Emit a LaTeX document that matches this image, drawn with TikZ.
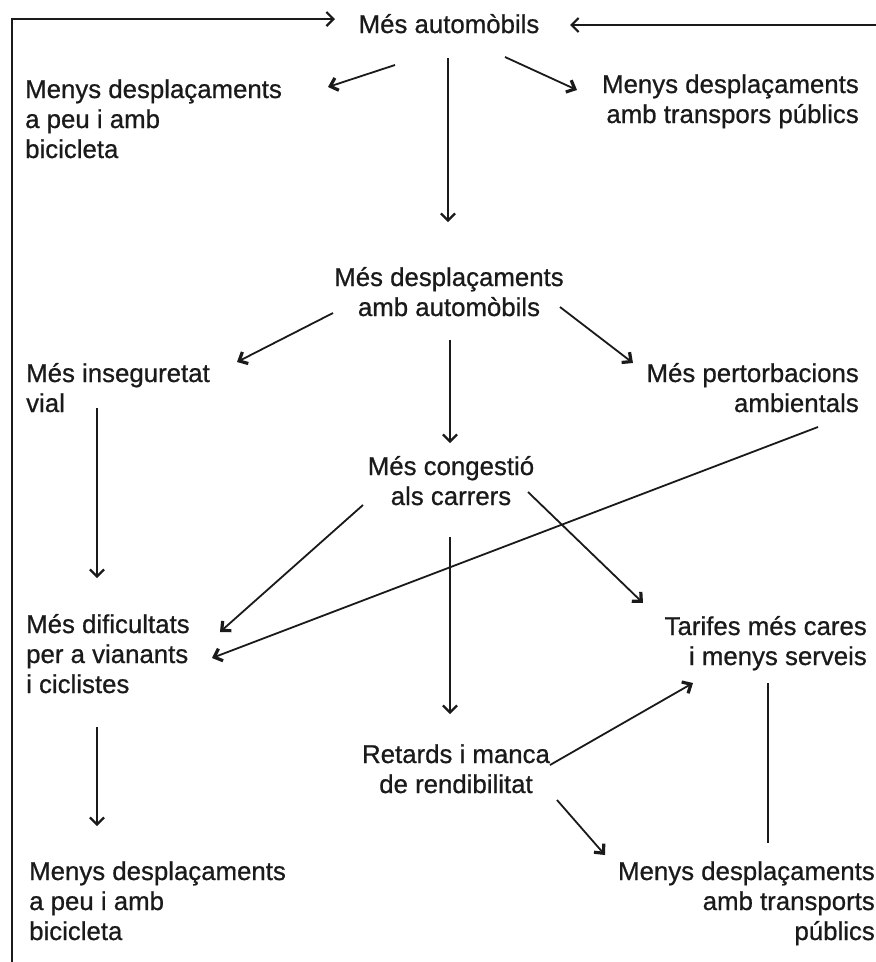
\documentclass[tikz,border=0pt]{standalone}
\usepackage{fontspec}
\setmainfont{Liberation Sans}
\newfontfamily\inkfont{Liberation Sans}[FakeBold=0.7]
\usetikzlibrary{arrows.meta}
\newcommand\lblL[1]{\begin{tabular}[t]{@{}l@{}}#1\end{tabular}}
\newcommand\lblR[1]{\begin{tabular}[t]{@{}r@{}}#1\end{tabular}}
\newcommand\lblC[1]{\begin{tabular}[t]{@{}c@{}}#1\end{tabular}}
\definecolor{ink}{HTML}{1A1A1A}
\begin{document}
\begin{tikzpicture}[x=1pt,y=-1pt,
  lbl/.style={inner sep=0pt, text=ink, font=\inkfont\fontsize{25.8}{30}\selectfont},
  link/.style={draw=ink, line width=1.8pt},
  arr/.style={link, -{Straight Barb[length=7pt,width=14pt,line width=2.2pt]}},
  darr/.style={link, -{Straight Barb[length=7pt,width=13pt,line width=3.2pt]}}]
\useasboundingbox[fill=white] (0,0) rectangle (876,962);

% labels
\node[lbl, anchor=base] (auto) at (449,33) {Més automòbils};
\node[lbl, anchor=base west] (peuA) at (25,98) {\lblL{Menys desplaçaments\\a peu i amb\\bicicleta}};
\node[lbl, anchor=base east] (tpA) at (859,93) {\lblR{Menys desplaçaments\\amb transpors públics}};
\node[lbl, anchor=base] (desp) at (449,286) {\lblC{Més desplaçaments\\amb automòbils}};
\node[lbl, anchor=base west] (inseg) at (26,382) {\lblL{Més inseguretat\\vial}};
\node[lbl, anchor=base east] (pert) at (859,382) {\lblR{Més pertorbacions\\ambientals}};
\node[lbl, anchor=base] (cong) at (451,475) {\lblC{Més congestió\\als carrers}};
\node[lbl, anchor=base west] (dific) at (26,633) {\lblL{Més dificultats\\per a vianants\\i ciclistes}};
\node[lbl, anchor=base east] (tarif) at (867,635) {\lblR{Tarifes més cares\\i menys serveis}};
\node[lbl, anchor=base] (ret) at (456,763) {\lblC{Retards i manca\\de rendibilitat}};
\node[lbl, anchor=base west] (peuB) at (29,880) {\lblL{Menys desplaçaments\\a peu i amb\\bicicleta}};
\node[lbl, anchor=base east] (tpB) at (875,880) {\lblR{Menys desplaçaments\\amb transports\\públics}};

% connector end points
\coordinate (auto-peuA) at (395,65);   \coordinate (peuA-in) at (328,87);
\coordinate (auto-tpA) at (505,57);    \coordinate (tpA-in) at (577,90);
\coordinate (auto-desp) at (448,58);   \coordinate (desp-in) at (448,222);
\coordinate (desp-inseg) at (333,313); \coordinate (inseg-in) at (237,362);
\coordinate (desp-pert) at (560,307);  \coordinate (pert-in) at (633,363);
\coordinate (desp-cong) at (450,340);  \coordinate (cong-in) at (450,443);
\coordinate (inseg-dific) at (97,408); \coordinate (dific-in1) at (97,578);
\coordinate (cong-dific) at (363,505); \coordinate (dific-in2) at (220,632);
\coordinate (pert-dific) at (818,427); \coordinate (dific-in3) at (212,658);
\coordinate (cong-tarif) at (528,492); \coordinate (tarif-in1) at (643,603);
\coordinate (cong-ret) at (450,537);   \coordinate (ret-in) at (450,714);
\coordinate (dific-peuB) at (97,727);  \coordinate (peuB-in) at (97,826);
\coordinate (ret-tarif) at (550,765);  \coordinate (tarif-in2) at (693,683);
\coordinate (tarif-tpB) at (768,683);  \coordinate (tpB-in) at (768,843);
\coordinate (ret-tpB) at (557,800);    \coordinate (tpB-in2) at (605,855);
% feedback frame
\coordinate (fbL) at (12,962); \coordinate (fbLT) at (12,19); \coordinate (autoL) at (335,19);
\coordinate (fbR) at (876,25); \coordinate (autoR) at (570,25);

% connectors
\draw[darr] (auto-peuA) -- (peuA-in);
\draw[darr] (auto-tpA) -- (tpA-in);
\draw[arr] (auto-desp) -- (desp-in);
\draw[darr] (desp-inseg) -- (inseg-in);
\draw[darr] (desp-pert) -- (pert-in);
\draw[arr] (desp-cong) -- (cong-in);
\draw[arr] (inseg-dific) -- (dific-in1);
\draw[darr] (cong-dific) -- (dific-in2);
\draw[darr] (pert-dific) -- (dific-in3);
\draw[darr] (cong-tarif) -- (tarif-in1);
\draw[arr] (cong-ret) -- (ret-in);
\draw[arr] (dific-peuB) -- (peuB-in);
\draw[darr] (ret-tarif) -- (tarif-in2);
\draw[link] (tarif-tpB) -- (tpB-in);
\draw[darr] (ret-tpB) -- (tpB-in2);
\draw[arr, line width=2.2pt] (fbL) -- (fbLT) -- (autoL);
\draw[arr] (fbR) -- (autoR);
\end{tikzpicture}
\end{document}
